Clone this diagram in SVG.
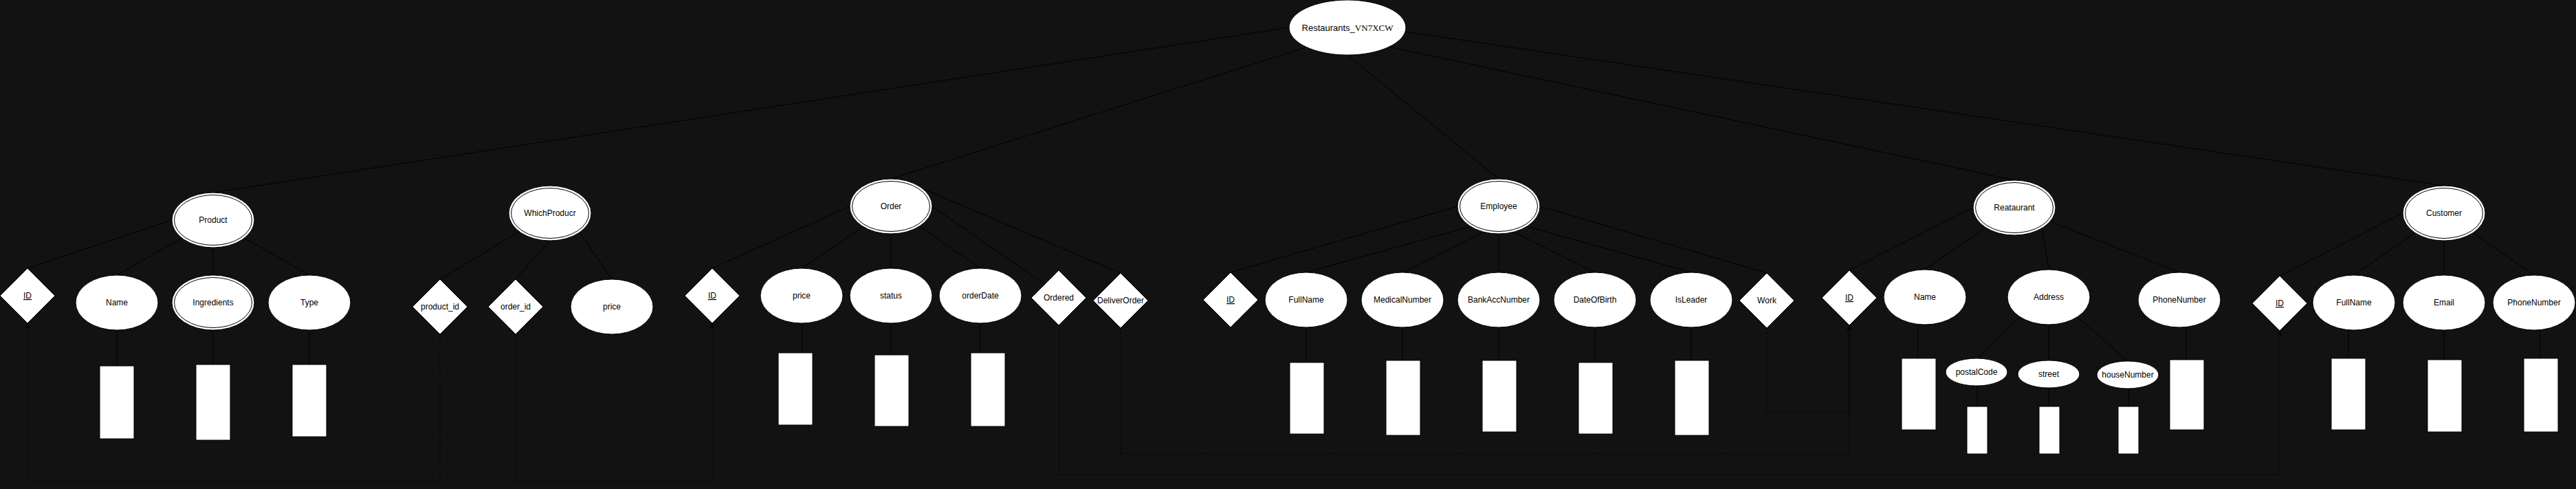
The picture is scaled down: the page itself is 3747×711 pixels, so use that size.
<svg xmlns="http://www.w3.org/2000/svg" width="3747" height="711" viewBox="0 0 3747 711">
<defs>
<style>
.bg{fill:#121212}
.n{fill:#fff;stroke:#000;stroke-width:1}
.r{fill:#fff;stroke:#000;stroke-width:1}
.e{stroke:#000;stroke-width:1;fill:none}
.d{stroke:#000;stroke-width:1;fill:none;stroke-dasharray:3 3}
.t{font-family:"Liberation Sans",Arial,Helvetica,sans-serif;font-size:12px;fill:#000;text-anchor:middle}
.u{text-decoration:underline}
</style>
<marker id="arr" markerWidth="10" markerHeight="10" refX="9" refY="5" orient="auto" markerUnits="userSpaceOnUse">
<path d="M1,1.5 L9,5 L1,8.5 L3,5 Z" fill="#000"/>
</marker>
</defs>
<rect class="bg" x="0" y="0" width="3747" height="711"/>

<g id="connectors">
<line class="e" x1="1875" y1="40" x2="310" y2="280"/>
<line class="e" x1="1899" y1="69" x2="1296" y2="260"/>
<line class="e" x1="1960" y1="80" x2="2180" y2="260"/>
<line class="e" x1="2020" y1="68" x2="2930" y2="262"/>
<line class="e" x1="2044" y1="46" x2="3555" y2="270"/>

<line class="e" x1="250" y1="320" x2="40" y2="390"/>
<line class="e" x1="264.5" y1="346" x2="170" y2="400"/>
<line class="e" x1="310" y1="360" x2="310" y2="400"/>
<line class="e" x1="355.5" y1="346" x2="450" y2="400"/>
<line class="e" x1="170" y1="480" x2="170" y2="532"/>
<line class="e" x1="310" y1="480" x2="310" y2="530"/>
<line class="e" x1="450" y1="480" x2="450" y2="530"/>

<line class="e" x1="755" y1="337" x2="640" y2="406"/>
<line class="e" x1="800" y1="350" x2="750" y2="406"/>
<line class="e" x1="843" y1="338" x2="890" y2="406"/>

<line class="e" x1="1236" y1="300" x2="1036" y2="390"/>
<line class="e" x1="1255" y1="330" x2="1166" y2="390"/>
<line class="e" x1="1296" y1="340" x2="1296" y2="390"/>
<line class="e" x1="1337" y1="329" x2="1426" y2="390"/>
<line class="e" x1="1356" y1="300" x2="1519" y2="413"/>
<line class="e" x1="1344" y1="275" x2="1630" y2="397"/>
<line class="e" x1="1167" y1="470" x2="1167" y2="513"/>
<line class="e" x1="1296" y1="470" x2="1296" y2="516"/>
<line class="e" x1="1426" y1="470" x2="1426" y2="513"/>

<line class="e" x1="2120" y1="300" x2="1790" y2="396"/>
<line class="e" x1="2140" y1="329" x2="1900" y2="396"/>
<line class="e" x1="2159" y1="337" x2="2040" y2="396"/>
<line class="e" x1="2180" y1="340" x2="2180" y2="396"/>
<line class="e" x1="2201" y1="337" x2="2320" y2="396"/>
<line class="e" x1="2220" y1="329" x2="2460" y2="396"/>
<line class="e" x1="2240" y1="300" x2="2570" y2="397"/>
<line class="e" x1="1900" y1="476" x2="1900" y2="527"/>
<line class="e" x1="2040" y1="476" x2="2040" y2="524"/>
<line class="e" x1="2180" y1="476" x2="2180" y2="524"/>
<line class="e" x1="2320" y1="476" x2="2320" y2="527"/>
<line class="e" x1="2460" y1="476" x2="2460" y2="524"/>

<line class="e" x1="2870" y1="302" x2="2690" y2="393"/>
<line class="e" x1="2888" y1="331" x2="2800" y2="392"/>
<line class="e" x1="2970" y1="332" x2="2980" y2="392"/>
<line class="e" x1="2982" y1="322" x2="3170" y2="396"/>
<line class="e" x1="2790" y1="472" x2="2790" y2="521"/>
<line class="e" x1="2938" y1="461" x2="2876" y2="522"/>
<line class="e" x1="2980" y1="472" x2="2980" y2="525"/>
<line class="e" x1="3022" y1="461" x2="3096" y2="526"/>
<line class="e" x1="2876" y1="560" x2="2876" y2="591"/>
<line class="e" x1="2980" y1="563" x2="2980" y2="591"/>
<line class="e" x1="3096" y1="564" x2="3096" y2="591"/>
<line class="e" x1="3180" y1="475" x2="3180" y2="523"/>

<line class="e" x1="3495" y1="310" x2="3316" y2="401"/>
<line class="e" x1="3512" y1="339" x2="3424" y2="400"/>
<line class="e" x1="3555" y1="350" x2="3555" y2="400"/>
<line class="e" x1="3598" y1="339" x2="3686" y2="400"/>
<line class="e" x1="3416" y1="480" x2="3416" y2="521"/>
<line class="e" x1="3555" y1="480" x2="3555" y2="523"/>
<line class="e" x1="3695" y1="480" x2="3695" y2="521"/>

<path class="d" d="M640,486 V700 H40 V470" marker-end="url(#arr)"/>
<path class="d" d="M750,486 V700 H1036 V470" marker-end="url(#arr)"/>
<path class="d" d="M1540,473 V690 H3316 V481" marker-end="url(#arr)"/>
<path class="d" d="M1630,477 V660 H2690 V473" marker-end="url(#arr)"/>
<path class="d" d="M2570,477 V600 H2690 V473" marker-end="url(#arr)"/>
</g>

<g id="root">
<ellipse class="n" cx="1960" cy="40" rx="85" ry="40"/>
<text x="1960" y="44.5" style="font-size:13px;fill:#000;text-anchor:middle"><tspan style="font-family:'Liberation Sans',Arial,sans-serif">Restaurants_</tspan><tspan style="font-family:'Liberation Serif','Times New Roman',serif">VN7XCW</tspan></text>
</g>

<g id="product">
<ellipse class="n" cx="310" cy="320" rx="60" ry="40"/>
<ellipse class="n" cx="310" cy="320" rx="56.5" ry="36.5"/>
<text class="t" x="310" y="324">Product</text>
</g>
<g id="product-id">
<polygon class="n" points="40,390 80,430 40,470 0,430"/>
<text class="t u" x="40" y="434">ID</text>
</g>
<g id="product-name">
<ellipse class="n" cx="170" cy="440" rx="60" ry="40"/>
<text class="t" x="170" y="444">Name</text>
</g>
<g id="product-ingredients">
<ellipse class="n" cx="310" cy="440" rx="60" ry="40"/>
<ellipse class="n" cx="310" cy="440" rx="56.5" ry="36.5"/>
<text class="t" x="310" y="444">Ingredients</text>
</g>
<g id="product-type">
<ellipse class="n" cx="450" cy="440" rx="60" ry="40"/>
<text class="t" x="450" y="444">Type</text>
</g>
<g id="product-name-box"><rect class="r" x="145" y="532" width="50" height="106"/></g>
<g id="product-ingredients-box"><rect class="r" x="285" y="530" width="50" height="110"/></g>
<g id="product-type-box"><rect class="r" x="425" y="530" width="50" height="105"/></g>

<g id="whichproducr">
<ellipse class="n" cx="800" cy="310" rx="60" ry="40"/>
<ellipse class="n" cx="800" cy="310" rx="56.5" ry="36.5"/>
<text class="t" x="800" y="314">WhichProducr</text>
</g>
<g id="wp-product-id">
<polygon class="n" points="640,406 680,446 640,486 600,446"/>
<text class="t" x="640" y="450">product_id</text>
</g>
<g id="wp-order-id">
<polygon class="n" points="750,406 790,446 750,486 710,446"/>
<text class="t" x="750" y="450">order_id</text>
</g>
<g id="wp-price">
<ellipse class="n" cx="890" cy="446" rx="60" ry="40"/>
<text class="t" x="890" y="450">price</text>
</g>

<g id="order">
<ellipse class="n" cx="1296" cy="300" rx="60" ry="40"/>
<ellipse class="n" cx="1296" cy="300" rx="56.5" ry="36.5"/>
<text class="t" x="1296" y="304">Order</text>
</g>
<g id="order-id">
<polygon class="n" points="1036,390 1076,430 1036,470 996,430"/>
<text class="t u" x="1036" y="434">ID</text>
</g>
<g id="order-price">
<ellipse class="n" cx="1166" cy="430" rx="60" ry="40"/>
<text class="t" x="1166" y="434">price</text>
</g>
<g id="order-status">
<ellipse class="n" cx="1296" cy="430" rx="60" ry="40"/>
<text class="t" x="1296" y="434">status</text>
</g>
<g id="order-orderdate">
<ellipse class="n" cx="1426" cy="430" rx="60" ry="40"/>
<text class="t" x="1426" y="434">orderDate</text>
</g>
<g id="order-ordered">
<polygon class="n" points="1540,393 1580,433 1540,473 1500,433"/>
<text class="t" x="1540" y="437">Ordered</text>
</g>
<g id="order-deliverorder">
<polygon class="n" points="1630,397 1670,437 1630,477 1590,437"/>
<text class="t" x="1630" y="441">DeliverOrder</text>
</g>
<g id="order-price-box"><rect class="r" x="1132" y="513" width="50" height="105"/></g>
<g id="order-status-box"><rect class="r" x="1272" y="516" width="50" height="104"/></g>
<g id="order-orderdate-box"><rect class="r" x="1412" y="513" width="50" height="107"/></g>

<g id="employee">
<ellipse class="n" cx="2180" cy="300" rx="60" ry="40"/>
<ellipse class="n" cx="2180" cy="300" rx="56.5" ry="36.5"/>
<text class="t" x="2180" y="304">Employee</text>
</g>
<g id="employee-id">
<polygon class="n" points="1790,396 1830,436 1790,476 1750,436"/>
<text class="t u" x="1790" y="440">ID</text>
</g>
<g id="employee-fullname">
<ellipse class="n" cx="1900" cy="436" rx="60" ry="40"/>
<text class="t" x="1900" y="440">FullName</text>
</g>
<g id="employee-medicalnumber">
<ellipse class="n" cx="2040" cy="436" rx="60" ry="40"/>
<text class="t" x="2040" y="440">MedicalNumber</text>
</g>
<g id="employee-bankaccnumber">
<ellipse class="n" cx="2180" cy="436" rx="60" ry="40"/>
<text class="t" x="2180" y="440">BankAccNumber</text>
</g>
<g id="employee-dateofbirth">
<ellipse class="n" cx="2320" cy="436" rx="60" ry="40"/>
<text class="t" x="2320" y="440">DateOfBirth</text>
</g>
<g id="employee-isleader">
<ellipse class="n" cx="2460" cy="436" rx="60" ry="40"/>
<text class="t" x="2460" y="440">IsLeader</text>
</g>
<g id="employee-work">
<polygon class="n" points="2570,397 2610,437 2570,477 2530,437"/>
<text class="t" x="2570" y="441">Work</text>
</g>
<g id="employee-fullname-box"><rect class="r" x="1876" y="527" width="50" height="104"/></g>
<g id="employee-medicalnumber-box"><rect class="r" x="2016" y="524" width="50" height="109"/></g>
<g id="employee-bankaccnumber-box"><rect class="r" x="2156" y="524" width="50" height="104"/></g>
<g id="employee-dateofbirth-box"><rect class="r" x="2296" y="527" width="50" height="104"/></g>
<g id="employee-isleader-box"><rect class="r" x="2436" y="524" width="50" height="109"/></g>

<g id="restaurant">
<ellipse class="n" cx="2930" cy="302" rx="60" ry="40"/>
<ellipse class="n" cx="2930" cy="302" rx="56.5" ry="36.5"/>
<text class="t" x="2930" y="306">Reataurant</text>
</g>
<g id="restaurant-id">
<polygon class="n" points="2690,393 2730,433 2690,473 2650,433"/>
<text class="t u" x="2690" y="437">ID</text>
</g>
<g id="restaurant-name">
<ellipse class="n" cx="2800" cy="432" rx="60" ry="40"/>
<text class="t" x="2800" y="436">Name</text>
</g>
<g id="restaurant-address">
<ellipse class="n" cx="2980" cy="432" rx="60" ry="40"/>
<text class="t" x="2980" y="436">Address</text>
</g>
<g id="restaurant-phonenumber">
<ellipse class="n" cx="3170" cy="436" rx="60" ry="40"/>
<text class="t" x="3170" y="440">PhoneNumber</text>
</g>
<g id="address-postalcode">
<ellipse class="n" cx="2875" cy="541" rx="45" ry="20"/>
<text class="t" x="2875" y="545">postalCode</text>
</g>
<g id="address-street">
<ellipse class="n" cx="2980" cy="544" rx="45" ry="20"/>
<text class="t" x="2980" y="548">street</text>
</g>
<g id="address-housenumber">
<ellipse class="n" cx="3095" cy="545" rx="45" ry="20"/>
<text class="t" x="3095" y="549">houseNumber</text>
</g>
<g id="restaurant-name-box"><rect class="r" x="2766" y="521" width="50" height="104"/></g>
<g id="postalcode-box"><rect class="r" x="2861" y="591" width="30" height="69"/></g>
<g id="street-box"><rect class="r" x="2966" y="591" width="30" height="69"/></g>
<g id="housenumber-box"><rect class="r" x="3081" y="591" width="30" height="69"/></g>
<g id="restaurant-phonenumber-box"><rect class="r" x="3156" y="523" width="50" height="102"/></g>

<g id="customer">
<ellipse class="n" cx="3555" cy="310" rx="60" ry="40"/>
<ellipse class="n" cx="3555" cy="310" rx="56.5" ry="36.5"/>
<text class="t" x="3555" y="314">Customer</text>
</g>
<g id="customer-id">
<polygon class="n" points="3316,401 3356,441 3316,481 3276,441"/>
<text class="t u" x="3316" y="445">ID</text>
</g>
<g id="customer-fullname">
<ellipse class="n" cx="3424" cy="440" rx="60" ry="40"/>
<text class="t" x="3424" y="444">FullName</text>
</g>
<g id="customer-email">
<ellipse class="n" cx="3555" cy="440" rx="60" ry="40"/>
<text class="t" x="3555" y="444">Email</text>
</g>
<g id="customer-phonenumber">
<ellipse class="n" cx="3686" cy="440" rx="60" ry="40"/>
<text class="t" x="3686" y="444">PhoneNumber</text>
</g>
<g id="customer-fullname-box"><rect class="r" x="3391" y="521" width="50" height="104"/></g>
<g id="customer-email-box"><rect class="r" x="3531" y="523" width="50" height="105"/></g>
<g id="customer-phonenumber-box"><rect class="r" x="3671" y="521" width="50" height="107"/></g>
</svg>
